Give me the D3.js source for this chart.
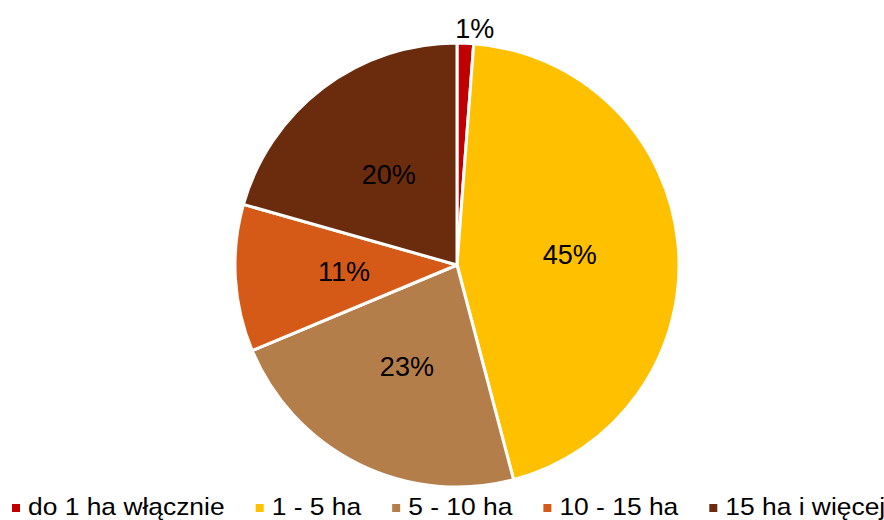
<!DOCTYPE html>
<html><head><meta charset="utf-8">
<script src="https://cdn.jsdelivr.net/npm/d3@7/dist/d3.min.js"></script>
<style>body{margin:0;background:#fff}svg{display:block}</style>
</head><body>
<svg id="c" width="884" height="520"></svg>
<script>
const categories = ["do 1 ha włącznie", "1 - 5 ha", "5 - 10 ha", "10 - 15 ha", "15 ha i więcej"];
const values = [1.2, 44.7, 22.8, 10.7, 20.6];
const labels = ["1%", "45%", "23%", "11%", "20%"];
const colors = ["#C00000", "#FFC000", "#B47E4A", "#D55A17", "#6A2C0D"];

const svg = d3.select("#c");
const cx = 457, cy = 265, R = 222;

const pie = d3.pie().sort(null).value(d => d)(values);
const arc = d3.arc().innerRadius(0).outerRadius(R);
const g = svg.append("g").attr("transform", `translate(${cx},${cy})`);

g.selectAll("path").data(pie).join("path")
  .attr("d", arc)
  .attr("fill", (d, i) => colors[i])
  .attr("stroke", "#fff")
  .attr("stroke-width", 3)
  .attr("stroke-linejoin", "round");

g.selectAll("text.lbl").data(pie).join("text")
  .attr("class", "lbl")
  .each(function(d) {
    const frac = (d.endAngle - d.startAngle) / (2 * Math.PI);
    let a, rr;
    if (frac < 0.03) { a = d.endAngle; rr = R + 15; }
    else { a = (d.startAngle + d.endAngle) / 2; rr = R * 0.51; }
    d3.select(this).attr("x", rr * Math.sin(a)).attr("y", -rr * Math.cos(a));
  })
  .attr("dy", "0.36em")
  .attr("text-anchor", "middle")
  .attr("font-family", "Liberation Sans, Arial, sans-serif")
  .attr("font-size", 27)
  .attr("fill", "#000")
  .text((d, i) => labels[i]);

// legend
const lg = svg.append("g");
const sx = 1.1;
let x = 12;
categories.forEach((c, i) => {
  lg.append("rect").attr("x", x).attr("y", 504).attr("width", 8).attr("height", 8).attr("fill", colors[i]);
  const t = lg.append("text")
    .attr("font-family", "Liberation Sans, Arial, sans-serif")
    .attr("font-size", 24)
    .attr("fill", "#000")
    .text(c);
  const w = t.node().getComputedTextLength() * sx;
  const tx = x + 16;
  t.attr("transform", `translate(${tx},515) scale(${sx},1)`);
  x = tx + w + 31;
});
</script>
</body></html>
